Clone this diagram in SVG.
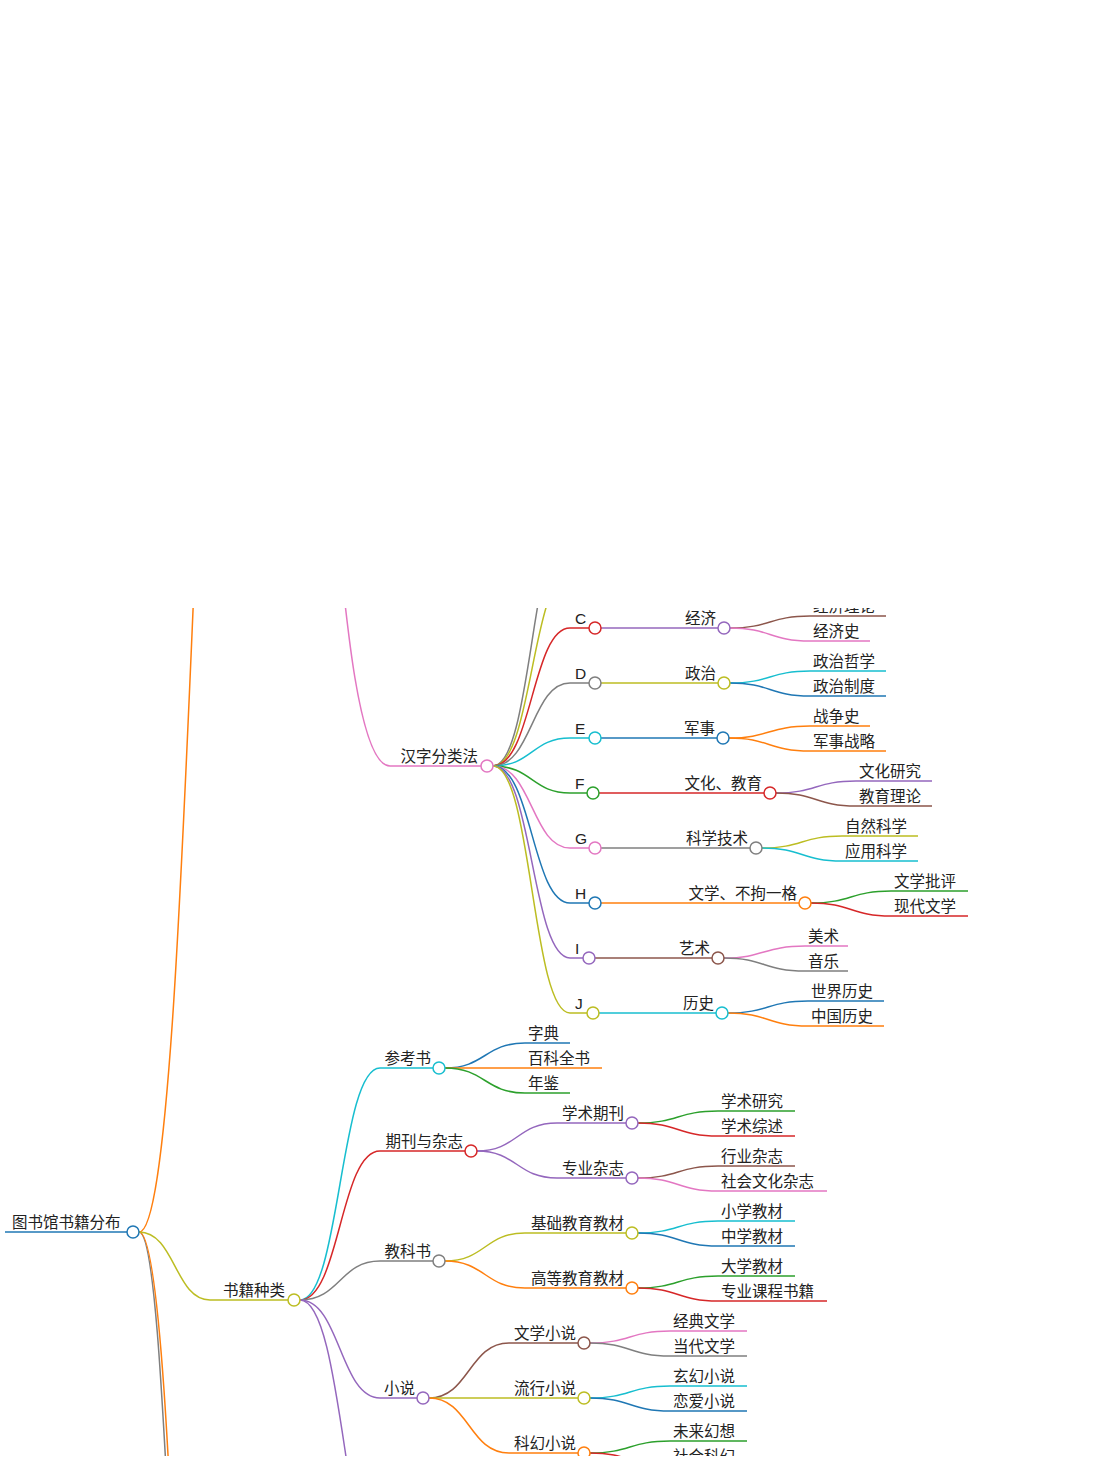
<svg xmlns="http://www.w3.org/2000/svg" width="1116" height="1460" viewBox="0 0 1116 1460">
<style>
text{font-family:"Liberation Sans","Noto Sans CJK SC",sans-serif;font-size:15.5px;fill:#222}
.e{text-anchor:end}
path{fill:none;stroke-width:1.5}
circle{fill:#fff;stroke-width:1.5}
</style>
<defs><clipPath id="c"><rect x="0" y="608" width="1116" height="848"/></clipPath></defs>
<rect width="1116" height="1460" fill="#fff"/>
<g clip-path="url(#c)">
<g id="connectors">
<path d="M5,1232H127" stroke="#1f77b4" stroke-width="4"/>
<path d="M139,1232C195,1232 195,-100 250,-100" stroke="#ff7f0e"/>
<path d="M139,1232C172,1232 172,2000 220,2000" stroke="#7f7f7f"/>
<path d="M139,1232C182,1232 182,2300 230,2300" stroke="#ff7f0e"/>
<path d="M139,1232C175,1232 175,1300 210,1300H288" stroke="#bcbd22"/>
<path d="M300,300C335,300 335,766 390,766H481" stroke="#e377c2"/>
<path d="M493,766C532,766 532,518 570,518H589" stroke="#7f7f7f"/>
<path d="M493,766C532,766 532,573 570,573H589" stroke="#bcbd22"/>
<path d="M493,766C532,766 532,628 570,628H589" stroke="#d62728"/>
<path d="M493,766C532,766 532,683 570,683H589" stroke="#7f7f7f"/>
<path d="M493,766C532,766 532,738 570,738H589" stroke="#17becf"/>
<path d="M493,766C532,766 532,793 570,793H587" stroke="#2ca02c"/>
<path d="M493,766C532,766 532,848 570,848H589" stroke="#e377c2"/>
<path d="M493,766C532,766 532,903 570,903H589" stroke="#1f77b4"/>
<path d="M493,766C532,766 532,958 570,958H583" stroke="#9467bd"/>
<path d="M493,766C532,766 532,1013 570,1013H587" stroke="#bcbd22"/>
<path d="M601,628H718" stroke="#9467bd"/>
<path d="M601,683H718" stroke="#bcbd22"/>
<path d="M601,738H717" stroke="#1f77b4"/>
<path d="M599,793H764" stroke="#d62728"/>
<path d="M601,848H750" stroke="#7f7f7f"/>
<path d="M601,903H799" stroke="#ff7f0e"/>
<path d="M595,958H712" stroke="#8c564b"/>
<path d="M599,1013H716" stroke="#17becf"/>
<path d="M730,628C770,628 770,616 810,616H886" stroke="#8c564b"/>
<path d="M730,628C770,628 770,641 810,641H870" stroke="#e377c2"/>
<path d="M730,683C770,683 770,671 810,671H886" stroke="#17becf"/>
<path d="M730,683C770,683 770,696 810,696H886" stroke="#1f77b4"/>
<path d="M729,738C769,738 769,726 810,726H870" stroke="#ff7f0e"/>
<path d="M729,738C769,738 769,751 810,751H886" stroke="#ff7f0e"/>
<path d="M776,793C816,793 816,781 856,781H932" stroke="#9467bd"/>
<path d="M776,793C816,793 816,806 856,806H932" stroke="#8c564b"/>
<path d="M762,848C802,848 802,836 842,836H918" stroke="#bcbd22"/>
<path d="M762,848C802,848 802,861 842,861H918" stroke="#17becf"/>
<path d="M811,903C851,903 851,891 891,891H968" stroke="#2ca02c"/>
<path d="M811,903C851,903 851,916 891,916H968" stroke="#d62728"/>
<path d="M724,958C764,958 764,946 805,946H848" stroke="#e377c2"/>
<path d="M724,958C764,958 764,971 805,971H848" stroke="#7f7f7f"/>
<path d="M728,1013C768,1013 768,1001 808,1001H884" stroke="#1f77b4"/>
<path d="M728,1013C768,1013 768,1026 808,1026H884" stroke="#ff7f0e"/>
<path d="M300,1300C340,1300 340,1068 380,1068H433" stroke="#17becf"/>
<path d="M300,1300C340,1300 340,1151 380,1151H465" stroke="#d62728"/>
<path d="M300,1300C340,1300 340,1261 380,1261H433" stroke="#7f7f7f"/>
<path d="M300,1300C340,1300 340,1398 380,1398H417" stroke="#9467bd"/>
<path d="M300,1300C345,1300 345,1600 390,1600" stroke="#9467bd"/>
<path d="M445,1068C485,1068 485,1043 525,1043H570" stroke="#1f77b4"/>
<path d="M445,1068H602" stroke="#ff7f0e"/>
<path d="M445,1068C485,1068 485,1093 525,1093H570" stroke="#2ca02c"/>
<path d="M477,1151C517,1151 517,1123 557,1123H626" stroke="#9467bd"/>
<path d="M477,1151C517,1151 517,1178 557,1178H626" stroke="#9467bd"/>
<path d="M638,1123C678,1123 678,1111 718,1111H795" stroke="#2ca02c"/>
<path d="M638,1123C678,1123 678,1136 718,1136H795" stroke="#d62728"/>
<path d="M638,1178C678,1178 678,1166 718,1166H795" stroke="#8c564b"/>
<path d="M638,1178C678,1178 678,1191 718,1191H827" stroke="#e377c2"/>
<path d="M445,1261C485,1261 485,1233 525,1233H626" stroke="#bcbd22"/>
<path d="M445,1261C485,1261 485,1288 525,1288H626" stroke="#ff7f0e"/>
<path d="M638,1233C678,1233 678,1221 718,1221H795" stroke="#17becf"/>
<path d="M638,1233C678,1233 678,1246 718,1246H795" stroke="#1f77b4"/>
<path d="M638,1288C678,1288 678,1276 718,1276H795" stroke="#2ca02c"/>
<path d="M638,1288C678,1288 678,1301 718,1301H827" stroke="#d62728"/>
<path d="M429,1398C469,1398 469,1343 509,1343H578" stroke="#8c564b"/>
<path d="M429,1398H578" stroke="#bcbd22"/>
<path d="M429,1398C469,1398 469,1453 509,1453H578" stroke="#ff7f0e"/>
<path d="M590,1343C630,1343 630,1331 670,1331H747" stroke="#e377c2"/>
<path d="M590,1343C630,1343 630,1356 670,1356H747" stroke="#7f7f7f"/>
<path d="M590,1398C630,1398 630,1386 670,1386H747" stroke="#17becf"/>
<path d="M590,1398C630,1398 630,1411 670,1411H747" stroke="#1f77b4"/>
<path d="M590,1453C630,1453 630,1441 670,1441H747" stroke="#2ca02c"/>
<path d="M590,1453C630,1453 630,1466 670,1466H747" stroke="#d62728"/>
</g>
<g id="root"><circle cx="133" cy="1232" r="6" stroke="#1f77b4"/><text x="12" y="1228">图书馆书籍分布</text></g>
<g id="n-types"><circle cx="294" cy="1300" r="6" stroke="#bcbd22"/><text class="e" x="285" y="1296">书籍种类</text></g>
<g id="n-hanzi"><circle cx="487" cy="766" r="6" stroke="#e377c2"/><text class="e" x="478" y="762">汉字分类法</text></g>
<g id="n-C"><circle cx="595" cy="628" r="6" stroke="#d62728"/><text x="575" y="624">C</text></g>
<g id="n-D"><circle cx="595" cy="683" r="6" stroke="#7f7f7f"/><text x="575" y="679">D</text></g>
<g id="n-E"><circle cx="595" cy="738" r="6" stroke="#17becf"/><text x="575" y="734">E</text></g>
<g id="n-F"><circle cx="593" cy="793" r="6" stroke="#2ca02c"/><text x="575" y="789">F</text></g>
<g id="n-G"><circle cx="595" cy="848" r="6" stroke="#e377c2"/><text x="575" y="844">G</text></g>
<g id="n-H"><circle cx="595" cy="903" r="6" stroke="#1f77b4"/><text x="575" y="899">H</text></g>
<g id="n-I"><circle cx="589" cy="958" r="6" stroke="#9467bd"/><text x="575" y="954">I</text></g>
<g id="n-J"><circle cx="593" cy="1013" r="6" stroke="#bcbd22"/><text x="575" y="1009">J</text></g>
<g id="n-jj"><circle cx="724" cy="628" r="6" stroke="#9467bd"/><text class="e" x="716" y="624">经济</text></g>
<g id="n-zz"><circle cx="724" cy="683" r="6" stroke="#bcbd22"/><text class="e" x="716" y="679">政治</text></g>
<g id="n-js"><circle cx="723" cy="738" r="6" stroke="#1f77b4"/><text class="e" x="715" y="734">军事</text></g>
<g id="n-wh"><circle cx="770" cy="793" r="6" stroke="#d62728"/><text class="e" x="762" y="789">文化、教育</text></g>
<g id="n-kx"><circle cx="756" cy="848" r="6" stroke="#7f7f7f"/><text class="e" x="748" y="844">科学技术</text></g>
<g id="n-wx"><circle cx="805" cy="903" r="6" stroke="#ff7f0e"/><text class="e" x="797" y="899">文学、不拘一格</text></g>
<g id="n-ys"><circle cx="718" cy="958" r="6" stroke="#8c564b"/><text class="e" x="710" y="954">艺术</text></g>
<g id="n-ls"><circle cx="722" cy="1013" r="6" stroke="#17becf"/><text class="e" x="714" y="1009">历史</text></g>
<g id="leaves1">
<text x="813" y="612">经济理论</text><text x="813" y="637">经济史</text>
<text x="813" y="667">政治哲学</text><text x="813" y="692">政治制度</text>
<text x="813" y="722">战争史</text><text x="813" y="747">军事战略</text>
<text x="859" y="777">文化研究</text><text x="859" y="802">教育理论</text>
<text x="845" y="832">自然科学</text><text x="845" y="857">应用科学</text>
<text x="894" y="887">文学批评</text><text x="894" y="912">现代文学</text>
<text x="808" y="942">美术</text><text x="808" y="967">音乐</text>
<text x="811" y="997">世界历史</text><text x="811" y="1022">中国历史</text>
</g>
<g id="n-ckx"><circle cx="439" cy="1068" r="6" stroke="#17becf"/><text class="e" x="431" y="1064">参考书</text></g>
<g id="n-qk"><circle cx="471" cy="1151" r="6" stroke="#d62728"/><text class="e" x="463" y="1147">期刊与杂志</text></g>
<g id="n-jk"><circle cx="439" cy="1261" r="6" stroke="#7f7f7f"/><text class="e" x="431" y="1257">教科书</text></g>
<g id="n-xs"><circle cx="423" cy="1398" r="6" stroke="#9467bd"/><text class="e" x="415" y="1394">小说</text></g>
<g id="n-xsqk"><circle cx="632" cy="1123" r="6" stroke="#9467bd"/><text class="e" x="624" y="1119">学术期刊</text></g>
<g id="n-zyzz"><circle cx="632" cy="1178" r="6" stroke="#9467bd"/><text class="e" x="624" y="1174">专业杂志</text></g>
<g id="n-jc"><circle cx="632" cy="1233" r="6" stroke="#bcbd22"/><text class="e" x="624" y="1229">基础教育教材</text></g>
<g id="n-gd"><circle cx="632" cy="1288" r="6" stroke="#ff7f0e"/><text class="e" x="624" y="1284">高等教育教材</text></g>
<g id="n-wxxs"><circle cx="584" cy="1343" r="6" stroke="#8c564b"/><text class="e" x="576" y="1339">文学小说</text></g>
<g id="n-lxxs"><circle cx="584" cy="1398" r="6" stroke="#bcbd22"/><text class="e" x="576" y="1394">流行小说</text></g>
<g id="n-khxs"><circle cx="584" cy="1453" r="6" stroke="#ff7f0e"/><text class="e" x="576" y="1449">科幻小说</text></g>
<g id="leaves2">
<text x="528" y="1039">字典</text><text x="528" y="1064">百科全书</text><text x="528" y="1089">年鉴</text>
<text x="721" y="1107">学术研究</text><text x="721" y="1132">学术综述</text>
<text x="721" y="1162">行业杂志</text><text x="721" y="1187">社会文化杂志</text>
<text x="721" y="1217">小学教材</text><text x="721" y="1242">中学教材</text>
<text x="721" y="1272">大学教材</text><text x="721" y="1297">专业课程书籍</text>
<text x="673" y="1327">经典文学</text><text x="673" y="1352">当代文学</text>
<text x="673" y="1382">玄幻小说</text><text x="673" y="1407">恋爱小说</text>
<text x="673" y="1437">未来幻想</text><text x="673" y="1462">社会科幻</text>
</g>
</g>
</svg>
